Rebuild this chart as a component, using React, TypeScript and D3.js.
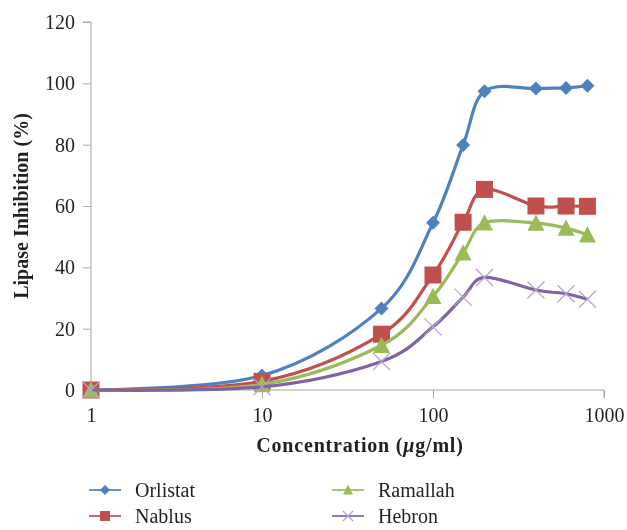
import React, { useEffect, useRef } from 'react'
import * as d3 from 'd3'

const concentrations = [1, 10, 50, 100, 150, 200, 400, 600, 800]
const orlistat = [0, 4.7, 26.6, 54.5, 79.9, 97.4, 98.3, 98.5, 99.2]
const nablus = [0, 2.8, 18.2, 37.5, 54.7, 65.4, 60, 60, 59.9]
const ramallah = [0, 1.8, 14.6, 30.5, 44.7, 54.5, 54.4, 52.8, 50.6]
const hebron = [0, 1, 9.3, 20.6, 30.3, 36.7, 32.6, 31.4, 29.6]
const xTicks = [1, 10, 100, 1000]
const yTicks = [0, 20, 40, 60, 80, 100, 120]

const series = [
  { name: 'Orlistat', values: orlistat, color: '#4F81BD', marker: 'diamond' },
  { name: 'Nablus', values: nablus, color: '#C0504D', marker: 'square' },
  { name: 'Ramallah', values: ramallah, color: '#9BBB59', marker: 'triangle' },
  { name: 'Hebron', values: hebron, color: '#8064A2', marker: 'cross' },
]

const FONT = "'Liberation Serif', 'Times New Roman', 'DejaVu Serif', serif"

function drawMarker(g: any, type: string, color: string, size: number) {
  if (type === 'diamond') {
    g.append('path')
      .attr('d', `M0,${-size / 2}L${size / 2},0L0,${size / 2}L${-size / 2},0Z`)
      .attr('fill', color)
  } else if (type === 'square') {
    g.append('rect')
      .attr('x', -size / 2).attr('y', -size / 2)
      .attr('width', size).attr('height', size)
      .attr('fill', color)
  } else if (type === 'triangle') {
    const h = size * 0.9
    g.append('path')
      .attr('d', `M0,${-h / 2 - 1}L${size / 2},${h / 2}L${-size / 2},${h / 2}Z`)
      .attr('fill', color)
  } else {
    const s = size / 2
    g.append('path')
      .attr('d', `M${-s},${-s}L${s},${s}M${-s},${s}L${s},${-s}`)
      .attr('stroke', '#B3A2D3')
      .attr('stroke-width', 1.2)
      .attr('fill', 'none')
  }
}

function Chart() {
  const ref = useRef<SVGSVGElement>(null)

  useEffect(() => {
    const svg = d3.select(ref.current)
    svg.selectAll('*').remove()

    const x = d3.scaleLog().domain([1, 1000]).range([91, 604])
    const y = d3.scaleLinear().domain([0, 120]).range([390, 22])

    // y axis
    const yAxis = svg.append('g')
      .attr('transform', `translate(${x(1)},0)`)
      .call(d3.axisLeft(y).tickValues(yTicks).tickSize(8).tickPadding(8))
    yAxis.select('.domain').attr('stroke', '#A6A6A6').attr('d', `M-8,${y(120)}H0V${y(0) + 8}`)
    yAxis.selectAll('.tick line').attr('stroke', '#A6A6A6')
    yAxis.selectAll('.tick text')
      .style('font-family', FONT).style('font-size', '20px').attr('fill', '#231F20')

    // x axis
    const xAxis = svg.append('g')
      .attr('transform', `translate(0,${y(0)})`)
      .call(d3.axisBottom(x).tickValues(xTicks).tickFormat(d3.format('d')).tickSize(8).tickPadding(10))
    xAxis.select('.domain').attr('stroke', '#A6A6A6').attr('d', `M${x(1)},0H${x(1000)}V8`)
    xAxis.selectAll('.tick line').attr('stroke', '#A6A6A6')
    xAxis.selectAll('.tick text')
      .style('font-family', FONT).style('font-size', '20px').attr('fill', '#231F20')

    const line = d3.line<number>()
      .x((d, i) => x(concentrations[i]))
      .y(d => y(d))
      .curve(d3.curveCardinal.tension(0))

    // Excel order: first series at the bottom, Hebron on top
    series.forEach(s => {
      svg.append('path')
        .attr('d', line(s.values))
        .attr('fill', 'none')
        .attr('stroke', s.color)
        .attr('stroke-width', 3.2)
      const size = s.marker === 'diamond' ? 14 : 17
      s.values.forEach((v, i) => {
        const g = svg.append('g').attr('transform', `translate(${x(concentrations[i])},${y(v)})`)
        drawMarker(g, s.marker, s.color, size)
      })
    })

    // axis titles
    svg.append('text')
      .attr('transform', `translate(28,206) rotate(-90)`)
      .attr('text-anchor', 'middle')
      .style('font-family', FONT).style('font-weight', 'bold').style('font-size', '20px')
      .attr('fill', '#231F20')
      .text('Lipase Inhibition (%)')

    const xt = svg.append('text')
      .attr('x', 360).attr('y', 452)
      .attr('text-anchor', 'middle')
      .style('font-family', FONT).style('font-weight', 'bold').style('font-size', '20px')
      .style('letter-spacing', '0.8px')
      .attr('fill', '#231F20')
    xt.append('tspan').text('Concentration (')
    xt.append('tspan').style('font-style', 'italic').text('μ')
    xt.append('tspan').text('g/ml)')

    // legend
    const legendPos = [[89, 490], [89, 516], [332, 490], [332, 516]]
    series.forEach((s, i) => {
      const [lx, ly] = legendPos[i]
      const g = svg.append('g').attr('transform', `translate(${lx},${ly})`)
      g.append('line').attr('x1', 0).attr('x2', 32).attr('y1', 0).attr('y2', 0)
        .attr('stroke', s.color).attr('stroke-width', 2).attr('opacity', 0.85)
      const m = g.append('g').attr('transform', 'translate(16,0)')
      drawMarker(m, s.marker, s.color, 10)
      g.append('text')
        .attr('x', 46).attr('y', 0).attr('dy', '0.35em')
        .style('font-family', FONT).style('font-size', '20px').attr('fill', '#231F20')
        .text(s.name)
    })
  }, [])

  return <svg ref={ref} width={627} height={530} style={{ display: 'block' }} />
}

export default function App() {
  return (
    <div style={{ position: 'fixed', left: 0, top: 0 }}>
      <Chart />
    </div>
  )
}
